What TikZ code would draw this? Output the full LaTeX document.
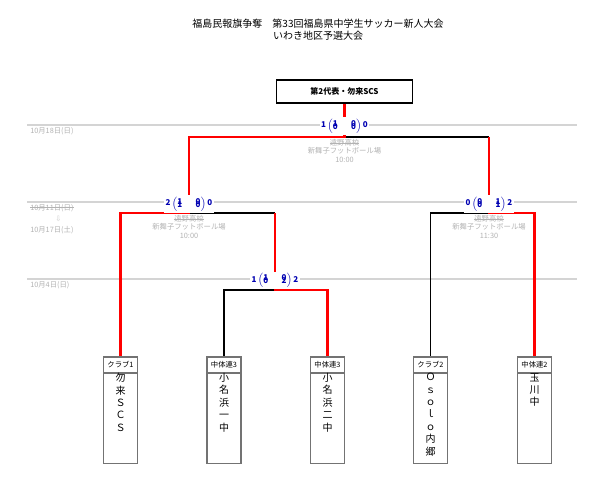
\documentclass[tikz,border=0pt]{standalone}
\usepackage{fontspec}
\setmainfont{Noto Sans CJK JP}
\newfontfamily\djfont{DejaVu Sans}
\usepackage{amsmath}
\newcommand{\strk}[1]{\setbox0\hbox{#1}\rlap{\rule[0.6ex]{\wd0}{0.35pt}}\box0}
\begin{document}
\begin{tikzpicture}[x=0.75pt,y=-0.75pt,
  gl/.style={draw=black!17,line width=1.5pt},
  win/.style={draw=red,line width=2.2pt},
  lose/.style={draw=black,line width=0.8pt},
  team/.style={draw=black!55,line width=1.3pt,minimum width=25.5pt,minimum height=80pt,inner sep=0pt,anchor=north},
  hdr/.style={draw=black!55,line width=1.3pt,minimum width=25.5pt,minimum height=12pt,inner sep=0pt,anchor=north,font=\fontsize{5.5}{6}\selectfont},
  ttxt/.style={anchor=north,align=center,font=\fontsize{7.5}{9.3}\selectfont,inner sep=0pt},
  date/.style={anchor=west,text=black!30,font=\fontsize{5.5}{6}\selectfont,inner sep=0pt},
  venue/.style={align=center,text=black!30,font=\fontsize{5.5}{6.3}\selectfont,inner sep=0pt,anchor=north},
  score/.style={fill=white,inner sep=1pt,text=blue!70!black,font=\bfseries\fontsize{6}{6.5}\selectfont}]
\newcommand{\scr}[6]{#1\,$\left(\begin{matrix}\text{#2}&\text{#4}\\[-4pt]\text{#3}&\text{#5}\end{matrix}\right)$\,#6}
\useasboundingbox (0,0) rectangle (600,488);
% title
\node[font=\fontsize{7.5}{9}\selectfont,align=center] (title) at (318,30) {福島民報旗争奪\quad 第33回福島県中学生サッカー新人大会\\いわき地区予選大会};
\node[draw,line width=1.2pt,minimum width=102pt,minimum height=17pt,inner sep=0pt,font=\bfseries\fontsize{6}{7}\selectfont] (champ) at (344.5,91.5) {第2代表・勿来SCS};
% grid lines
\draw[gl] (27,125) -- (577,125);
\draw[gl] (27,202) -- (577,202);
\draw[gl] (27,279) -- (577,279);
\node[date] (d1) at (30,131) {10月18日(日)};
\node[date] (d2) at (30,208) {\strk{10月11日(日)}};
\node[date,text=black!20] (d2a) at (55,219) {\djfont ⇩};
\node[date] (d3) at (30,230) {10月17日(土)};
\node[date] (d4) at (30,285) {10月4日(日)};
% teams
\foreach \n/\x/\h/\t in {1/120.5/クラブ1/勿\\来\\Ｓ\\Ｃ\\Ｓ, 2/224/中体連3/小\\名\\浜\\一\\中, 3/327.5/中体連3/小\\名\\浜\\二\\中, 4/430.5/クラブ2/Ｏ\\ｓ\\ｏ\\ｌ\\ｏ\\内\\郷, 5/534.5/中体連2/玉\\川\\中}{
  \node[team] (b\n) at (\x,356) {};
  \node[hdr] (h\n) at (\x,356) {\h};
  \node[ttxt] (t\n) at (\x,373) {\t};
}
% coordinates
\coordinate (r1) at (224,290); \coordinate (r1m) at (275,290); \coordinate (r1r) at (327.5,290);
\coordinate (sl) at (120.5,213); \coordinate (slm) at (189,213); \coordinate (slr) at (275,213);
\coordinate (sr) at (430.5,213); \coordinate (srm) at (489,213); \coordinate (srr) at (534.5,213);
\coordinate (fl) at (189,137); \coordinate (fm) at (344.5,137); \coordinate (fr) at (489,137);
% losers
\draw[lose] (h2.north) -- (r1) -- (r1m);
\draw[lose] (slm) -- (slr);
\draw[lose] (h4.north) -- (sr) -- (srm);
\draw[lose] (fm) -- (fr);
% winners
\draw[win] (h3.north) -- (r1r) -- (r1m) -- (slr);
\draw[win] (h1.north) -- (sl) -- (slm) -- (fl) -- (fm) -- (champ.south);
\draw[win] (h5.north) -- (srr) -- (srm) -- (fr);
% scores
\node[score] (s0) at (344.5,126) {\scr{1}{1}{0}{0}{0}{0}};
\node[score] (s1) at (189,204) {\scr{2}{1}{1}{0}{0}{0}};
\node[score] (s2) at (489,204) {\scr{0}{0}{0}{1}{1}{2}};
\node[score] (s3) at (275,280.5) {\scr{1}{1}{0}{0}{2}{2}};
% venues
\node[venue] (v0) at (344.5,139) {\strk{遠野高校}\\新舞子フットボール場\\10:00};
\node[venue] (v1) at (189,215) {\strk{遠野高校}\\新舞子フットボール場\\10:00};
\node[venue] (v2) at (489,215) {\strk{遠野高校}\\新舞子フットボール場\\11:30};
\end{tikzpicture}
\end{document}
